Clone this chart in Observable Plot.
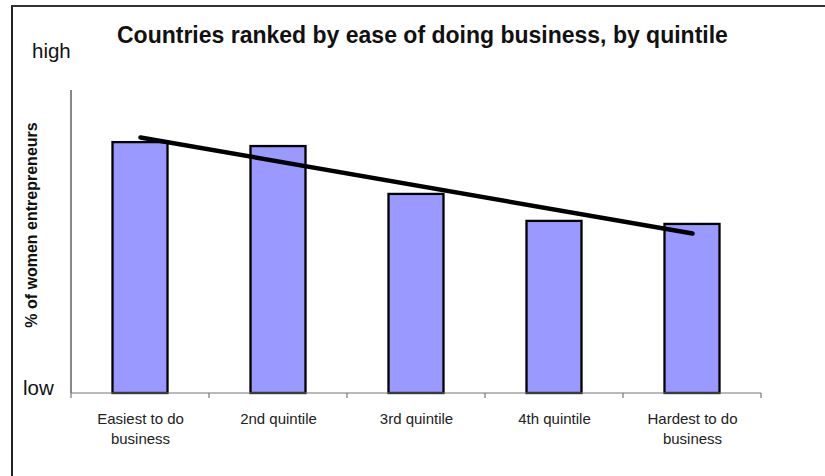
<!DOCTYPE html>
<html>
<head>
<meta charset="utf-8">
<script src="https://cdn.jsdelivr.net/npm/d3@7"></script>
<script src="https://cdn.jsdelivr.net/npm/@observablehq/plot@0.6"></script>
<style>
  html, body { margin: 0; padding: 0; background: #fff; }
  #wrap { position: relative; width: 825px; height: 476px; overflow: hidden; font-family: "Liberation Sans", Arial, sans-serif; color: #111; }
  #border { position: absolute; left: 11px; top: 5px; width: 830px; height: 480px; border-top: 2px solid #333; border-left: 2px solid #222; }
  .t { position: absolute; white-space: nowrap; line-height: 1; }
  #chart { position: absolute; left: 0; top: 0; }
</style>
</head>
<body>
<div id="wrap">
  <div id="border"></div>
  <div id="chart"></div>
  <div class="t" id="title" style="left:117px; top:24px; font-size:23px; font-weight:bold;"></div>
  <div class="t" id="high" style="left:32px; top:41px; font-size:20.5px;"></div>
  <div class="t" id="low" style="left:23px; top:378px; font-size:20.5px;"></div>
  <div class="t" id="ylab" style="left:32px; top:225px; font-size:16px; font-weight:bold; transform: translate(-50%,-50%) rotate(-90deg);"></div>
</div>
<script>
// ---- Data ----
const title = "Countries ranked by ease of doing business, by quintile";
const yLabel = "% of women entrepreneurs";
const highLabel = "high";
const lowLabel = "low";
const categories = ["Easiest to do business", "2nd quintile", "3rd quintile", "4th quintile", "Hardest to do business"];
const tickLabels = ["Easiest to do\nbusiness", "2nd quintile", "3rd quintile", "4th quintile", "Hardest to do\nbusiness"];
const values = [82.8, 81.5, 65.7, 56.8, 55.8];        // relative index (0 = low, 100 = high)
const trendCategories = ["Easiest to do business", "Hardest to do business"];
const trendValues = [84.5, 52.8];

document.getElementById("title").textContent = title;
document.getElementById("high").textContent = highLabel;
document.getElementById("low").textContent = lowLabel;
document.getElementById("ylab").textContent = yLabel;

const bars = categories.map((c, i) => ({q: c, v: values[i]}));
const trend = trendCategories.map((c, i) => ({q: c, v: trendValues[i]}));
const labelOf = new Map(categories.map((c, i) => [c, tickLabels[i]]));

const axisLines = (index, scales) => {
  const x = scales.x, y = scales.y;
  const bw = x(categories[1]) - x(categories[0]);
  const bounds = categories.map(c => x(c)).concat([x(categories[categories.length - 1]) + bw]);
  const g = d3.create("svg:g");
  g.append("line")
    .attr("x1", bounds[0]).attr("x2", bounds[0])
    .attr("y1", y(100)).attr("y2", y(0))
    .attr("stroke", "#111").attr("stroke-width", 1);
  g.append("line")
    .attr("x1", bounds[0]).attr("x2", bounds[bounds.length - 1])
    .attr("y1", y(0)).attr("y2", y(0))
    .attr("stroke", "#777").attr("stroke-width", 1.2);
  g.selectAll("line.tk").data(bounds).join("line").attr("class", "tk")
    .attr("x1", d => d).attr("x2", d => d)
    .attr("y1", y(0)).attr("y2", y(0) + 5)
    .attr("stroke", "#777").attr("stroke-width", 1.2);
  return g.node();
};

const chart = Plot.plot({
  width: 825,
  height: 476,
  marginLeft: 69,
  marginRight: 63,
  marginTop: 90,
  marginBottom: 83,
  style: {fontFamily: "Liberation Sans, Arial, sans-serif", background: "transparent", color: "#222"},
  x: {type: "band", domain: categories, padding: 0, axis: null, label: null},
  y: {domain: [0, 100], axis: null},
  marks: [
    Plot.barY(bars, {x: "q", y: "v", fill: "#9999ff", stroke: "#000", strokeWidth: 2.3, insetLeft: 41.5, insetRight: 41.5}),
    axisLines,
    Plot.axisX({tickSize: 0, tickPadding: 16, fontSize: 15, lineHeight: 1.33, label: null, tickFormat: d => labelOf.get(d), fill: "#222"}),
    Plot.line(trend, {x: "q", y: "v", stroke: "#000", strokeWidth: 4.5, strokeLinecap: "round"})
  ]
});
document.getElementById("chart").appendChild(chart);
</script>
</body>
</html>
